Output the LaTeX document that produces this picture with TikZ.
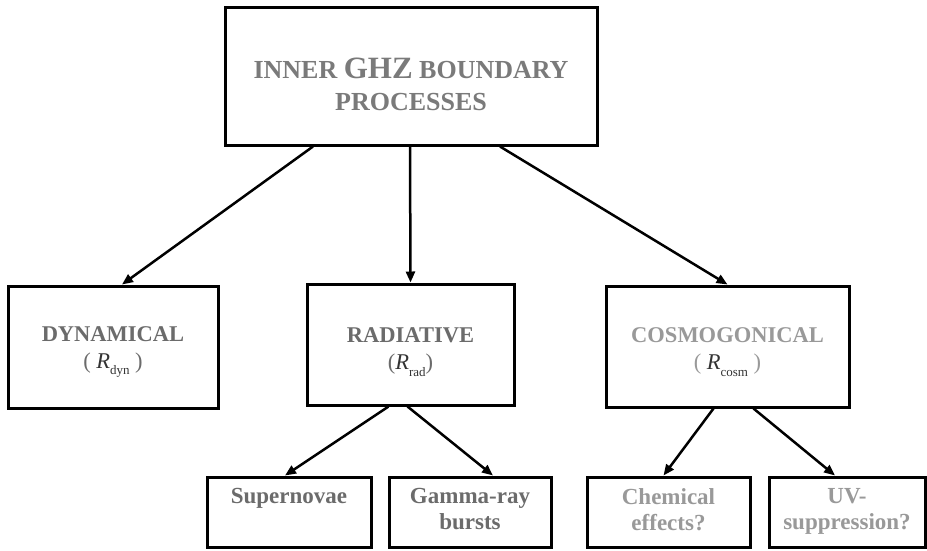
\documentclass[tikz,border=0pt]{standalone}
\usepackage{fontspec}
\setmainfont{Liberation Serif}
\usetikzlibrary{calc,arrows.meta}
\definecolor{txtTop}{gray}{0.48}
\definecolor{txtMid}{gray}{0.42}
\definecolor{txtLight}{gray}{0.6}
\definecolor{txtSym}{gray}{0.2}
\newcommand{\mysub}[1]{\raisebox{-0.28em}{\fontsize{13}{13}\selectfont\mdseries\upshape #1}}
\newcommand{\myR}[1]{{\color{txtSym}\mdseries\itshape R\mysub{#1}}}
\newcommand{\myP}[1]{{\mdseries #1}}
\begin{document}
\begin{tikzpicture}[x=1pt,y=-1pt,
  box/.style={draw=black, line width=3pt, inner sep=0pt, fill=white},
  toptext/.style={font=\fontsize{26}{32}\selectfont\bfseries, text=txtTop, align=center, inner sep=0pt},
  midtext/.style={font=\fontsize{22.5}{27}\selectfont\bfseries, align=center, inner sep=0pt},
  lowtext/.style={font=\fontsize{23}{26}\selectfont\bfseries, align=center, inner sep=0pt, anchor=north},
  conn/.style={draw=black, line width=2.5pt, -{Triangle[length=11pt,width=9pt]}}]
\useasboundingbox (0,0) rectangle (927,550);
\fill[white] (0,0) rectangle (927,550);

% boxes
\node[box, minimum width=372pt, minimum height=138pt] (top) at (411,76) {};
\node[box, minimum width=210pt, minimum height=122pt] (dyn) at (113,347) {};
\node[box, minimum width=207pt, minimum height=121pt] (rad) at (410.5,344.5) {};
\node[box, minimum width=243pt, minimum height=121pt] (cosm) at (727.5,346.5) {};
\node[box, minimum width=164pt, minimum height=70pt] (sup) at (289,512) {};
\node[box, minimum width=162pt, minimum height=70pt] (gam) at (470,512) {};
\node[box, minimum width=163pt, minimum height=70pt] (chem) at (668.5,512) {};
\node[box, minimum width=156pt, minimum height=70pt] (uv) at (847,512) {};

% texts
\node[toptext] (toplbl) at (411,84) {INNER {\fontsize{31}{32}\selectfont GHZ} BOUNDARY\\PROCESSES};
\node[midtext, text=txtMid] (dynlbl) at (113,352) {DYNAMICAL\\\myP{(} \myR{dyn} \myP{)}};
\node[midtext, text=txtMid] (radlbl) at (410.5,352) {RADIATIVE\\\myP{(}\myR{rad}\myP{)}};
\node[midtext, text=txtLight] (cosmlbl) at (727.5,352) {COSMOGONICAL\\\myP{(} \myR{cosm} \myP{)}};
\node[lowtext, text=txtMid] (suplbl) at (289,488) {Supernovae};
\node[lowtext, text=txtMid] (gamlbl) at (470,488) {Gamma-ray\\bursts};
\node[lowtext, text=txtLight] (chemlbl) at (668.5,488) {Chemical\\effects?};
\node[lowtext, text=txtLight] (uvlbl) at (847,488) {UV-\\suppression?};

% connectors
\draw[conn] ($(top.south)+(-98,0)$) -- ($(dyn.north)+(9,0)$);
\draw[conn] ($(top.south)+(-1,0)$) -- ($(rad.north)+(0,0)$);
\draw[conn] ($(top.south)+(89,0)$) -- ($(cosm.north)+(0,0)$);
\draw[conn] ($(rad.south)+(-22,0)$) -- ($(sup.north)+(-4,0)$);
\draw[conn] ($(rad.south)+(-3,0)$) -- ($(gam.north)+(23,0)$);
\draw[conn] ($(cosm.south)+(-14,0)$) -- ($(chem.north)+(-5,0)$);
\draw[conn] ($(cosm.south)+(26,0)$) -- ($(uv.north)+(-12,0)$);
\end{tikzpicture}
\end{document}
